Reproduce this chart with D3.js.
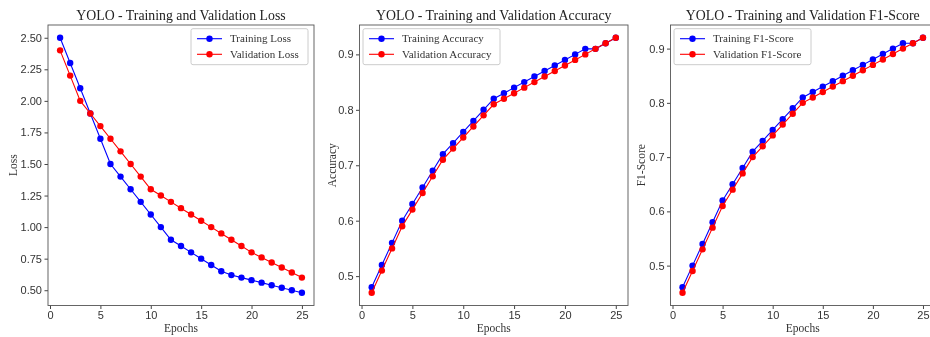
<!DOCTYPE html>
<html>
<head>
<meta charset="utf-8">
<script src="https://cdn.jsdelivr.net/npm/d3@7"></script>
<style>
  body { margin: 0; background: #fff; }
  svg { display: block; font-family: "Liberation Serif", "Times New Roman", serif; filter: blur(0.4px); }
  .tick text { font-size: 11px; fill: #333; }
  .tick line { stroke: #444; }
</style>
</head>
<body>
<svg width="930" height="337"></svg>
<script>
// epochs 1..25
const epochs = [1,2,3,4,5,6,7,8,9,10,11,12,13,14,15,16,17,18,19,20,21,22,23,24,25];

const trainLoss = [2.50,2.30,2.10,1.90,1.70,1.50,1.40,1.30,1.20,1.10,1.00,0.90,0.85,0.80,0.75,0.70,0.65,0.62,0.60,0.58,0.56,0.54,0.52,0.50,0.48];
const valLoss   = [2.40,2.20,2.00,1.90,1.80,1.70,1.60,1.50,1.40,1.30,1.25,1.20,1.15,1.10,1.05,1.00,0.95,0.90,0.85,0.80,0.76,0.72,0.68,0.64,0.60];

const trainAcc = [0.48,0.52,0.56,0.60,0.63,0.66,0.69,0.72,0.74,0.76,0.78,0.80,0.82,0.83,0.84,0.85,0.86,0.87,0.88,0.89,0.90,0.91,0.91,0.92,0.93];
const valAcc   = [0.47,0.51,0.55,0.59,0.62,0.65,0.68,0.71,0.73,0.75,0.77,0.79,0.81,0.82,0.83,0.84,0.85,0.86,0.87,0.88,0.89,0.90,0.91,0.92,0.93];

const trainF1 = [0.46,0.50,0.54,0.58,0.62,0.65,0.68,0.71,0.73,0.75,0.77,0.79,0.81,0.82,0.83,0.84,0.85,0.86,0.87,0.88,0.89,0.90,0.91,0.91,0.92];
const valF1   = [0.45,0.49,0.53,0.57,0.61,0.64,0.67,0.70,0.72,0.74,0.76,0.78,0.80,0.81,0.82,0.83,0.84,0.85,0.86,0.87,0.88,0.89,0.90,0.91,0.92];

const xTicks = [0,5,10,15,20,25];
const lossTicks = [0.50,0.75,1.00,1.25,1.50,1.75,2.00,2.25,2.50];
const scoreTicks = [0.5,0.6,0.7,0.8,0.9];

const svg = d3.select('svg');

const panels = [
  { title: 'YOLO - Training and Validation Loss', ylabel: 'Loss', train: trainLoss, val: valLoss,
    names: ['Training Loss','Validation Loss'], yTicks: lossTicks, fmt: '.2f',
    left: 48, right: 314, legend: 'right', legendW: 117, labelOff: 31 },
  { title: 'YOLO - Training and Validation Accuracy', ylabel: 'Accuracy', train: trainAcc, val: valAcc,
    names: ['Training Accuracy','Validation Accuracy'], yTicks: scoreTicks, fmt: '.1f',
    left: 359.5, right: 628, legend: 'left', legendW: 137, labelOff: 24 },
  { title: 'YOLO - Training and Validation F1-Score', ylabel: 'F1-Score', train: trainF1, val: valF1,
    names: ['Training F1-Score','Validation F1-Score'], yTicks: scoreTicks, fmt: '.1f',
    left: 670.5, right: 935, legend: 'left', legendW: 137, labelOff: 26 }
];

const plotTop = 25, plotBottom = 305.5;

panels.forEach(p => {
  const all = p.train.concat(p.val);
  const lo = d3.min(all), hi = d3.max(all);
  const pad = (hi - lo) * 0.05;

  const xScale = d3.scaleLinear()
    .domain([1 - 24 * 0.05, 25 + 24 * 0.05])
    .range([p.left, p.right]);

  const yScale = d3.scaleLinear()
    .domain([lo - pad, hi + pad])
    .range([plotBottom, plotTop]);

  const g = svg.append('g');

  g.append('g')
    .attr('transform', `translate(0,${plotBottom})`)
    .call(d3.axisBottom(xScale).tickValues(xTicks).tickFormat(d3.format('d')).tickSize(3.5).tickPadding(2.5))
    .select('.domain').remove();

  g.append('g')
    .attr('transform', `translate(${p.left},0)`)
    .call(d3.axisLeft(yScale).tickValues(p.yTicks).tickFormat(d3.format(p.fmt)).tickSize(3.5).tickPadding(2.5))
    .select('.domain').remove();

  g.append('rect')
    .attr('x', p.left).attr('y', plotTop)
    .attr('width', p.right - p.left).attr('height', plotBottom - plotTop)
    .attr('fill', 'none').attr('stroke', '#555').attr('stroke-width', 0.9);

  g.append('text')
    .attr('x', (p.left + p.right) / 2).attr('y', 20)
    .attr('text-anchor', 'middle')
    .attr('font-size', 13.8).attr('fill', '#222')
    .text(p.title);

  g.append('text')
    .attr('x', (p.left + p.right) / 2).attr('y', 332)
    .attr('text-anchor', 'middle')
    .attr('font-size', 11.5).attr('fill', '#333')
    .text('Epochs');

  g.append('text')
    .attr('transform', `translate(${p.left - p.labelOff},${(plotTop + plotBottom) / 2}) rotate(-90)`)
    .attr('text-anchor', 'middle')
    .attr('font-size', 11.5).attr('fill', '#333')
    .text(p.ylabel);

  const series = [
    { vals: p.train, color: '#0000ff', name: p.names[0] },
    { vals: p.val, color: '#ff0000', name: p.names[1] }
  ];

  const line = d3.line()
    .x((d, i) => xScale(epochs[i]))
    .y(d => yScale(d));

  series.forEach(s => {
    g.append('path')
      .datum(s.vals)
      .attr('d', line)
      .attr('fill', 'none')
      .attr('stroke', s.color)
      .attr('stroke-width', 1.1);
    g.selectAll(null).data(s.vals).enter().append('circle')
      .attr('cx', (d, i) => xScale(epochs[i]))
      .attr('cy', d => yScale(d))
      .attr('r', 3.2)
      .attr('fill', s.color);
  });

  // legend
  const lx = p.legend === 'right' ? p.right - 6 - p.legendW : p.left + 3.5;
  const lg = g.append('g').attr('transform', `translate(${lx},${plotTop + 3.7})`);
  lg.append('rect')
    .attr('width', p.legendW).attr('height', 36)
    .attr('rx', 2)
    .attr('fill', '#fff').attr('stroke', '#ccc');
  series.forEach((s, i) => {
    const yy = 10 + i * 15.6;
    lg.append('line')
      .attr('x1', 6).attr('x2', 31).attr('y1', yy).attr('y2', yy)
      .attr('stroke', s.color).attr('stroke-width', 1.1);
    lg.append('circle').attr('cx', 18.5).attr('cy', yy).attr('r', 3.2).attr('fill', s.color);
    lg.append('text')
      .attr('x', 39).attr('y', yy + 3.7)
      .attr('font-size', 11).attr('fill', '#333')
      .text(s.name);
  });
});
</script>
</body>
</html>
